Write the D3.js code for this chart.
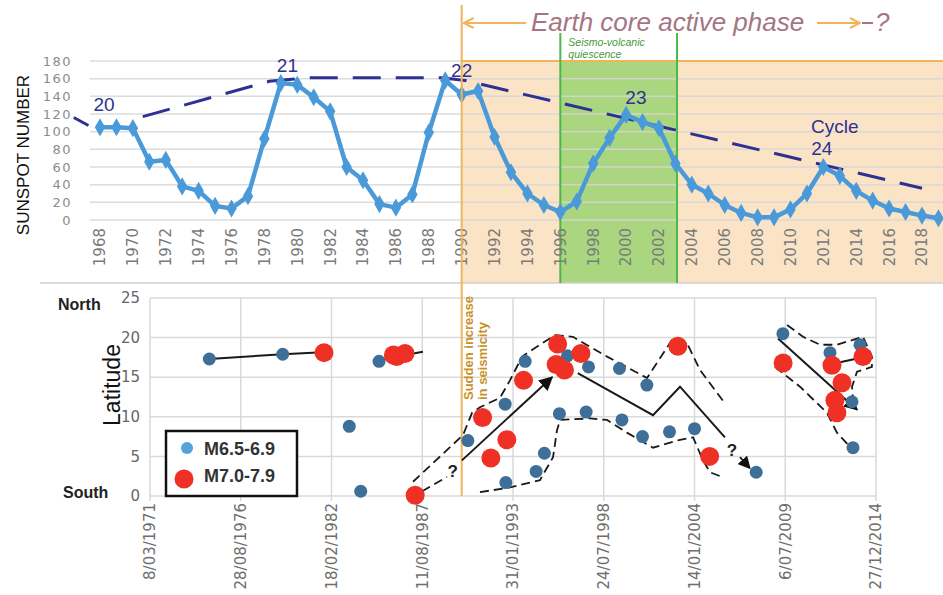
<!DOCTYPE html>
<html><head><meta charset="utf-8">
<script src="https://cdn.jsdelivr.net/npm/d3@7"></script>
<style>body{margin:0;background:#fff}svg{display:block}</style>
</head><body>
<svg id="c" width="943" height="595"></svg>
<script>
// ---------- DATA: top panel (sunspots) ----------
const sunspotYears = [1968,1969,1970,1971,1972,1973,1974,1975,1976,1977,1978,1979,1980,1981,1982,1983,1984,1985,1986,1987,1988,1989,1990,1991,1992,1993,1994,1995,1996,1997,1998,1999,2000,2001,2002,2003,2004,2005,2006,2007,2008,2009,2010,2011,2012,2013,2014,2015,2016,2017,2018,2019];
const sunspotValues = [105,105,104,66,68,38,33,16,13,27,92,155,153,139,123,60,45,18,14,29,99,158,142,146,94,54,30,17,9,21,64,93,119,111,104,64,40,30,17,8,3,3,12,30,60,50,33,22,13,9,5,2];
const sunspotTicks = [0,20,40,60,80,100,120,140,160,180];
const yearTicks = [1968,1970,1972,1974,1976,1978,1980,1982,1984,1986,1988,1990,1992,1994,1996,1998,2000,2002,2004,2006,2008,2010,2012,2014,2016,2018];
const envelopeStart = [[1966.4,116],[1967.3,107]];
const envelopeMain = [[1970.6,117],[1978.3,157],[1980.6,161],[1988.8,161],[1990.2,158],[2018,36]];
const cycleLabels = [["20",1968.25,131],["21",1979.4,175],["22",1990.0,169],["23",2000.6,139],["Cycle",2012.7,106],["24",2011.9,81]];
const activePhaseStart = 1990;
const quiescence = [1996, 2003.1];

// ---------- DATA: bottom panel (earthquakes) ----------
const dateTickLabels = ["8/03/1971","28/08/1976","18/02/1982","11/08/1987","31/01/1993","24/07/1998","14/01/2004","6/07/2009","27/12/2014"];
const latTicks = [0,5,10,15,20,25];
const quakesM65 = [["1974-10-05",17.3],["1979-03-10",17.9],["1983-03-17",8.8],["1983-11-24",0.6],["1985-01-01",17.0],["1990-05-12",7.0],["1992-08-11",11.6],["1992-08-26",1.7],["1993-10-26",17.0],["1994-06-25",3.1],["1994-12-24",5.4],["1995-11-20",10.4],["1996-05-15",17.7],["1997-07-01",10.6],["1997-08-22",16.3],["1999-07-05",16.1],["1999-08-29",9.6],["2000-11-24",7.5],["2001-02-28",14.0],["2002-07-12",8.1],["2004-01-15",8.5],["2007-10-05",3.0],["2009-05-15",20.5],["2012-03-18",18.1],["2013-07-16",11.9],["2013-08-07",6.1],["2014-01-08",19.1]];
const quakesM70 = [["1981-09-06",18.1],["1985-11-13",17.8],["1986-01-26",17.6],["1986-07-27",18.0],["1987-03-08",0.1],["1991-04-01",9.9],["1991-10-01",4.8],["1992-09-17",7.1],["1993-09-20",14.6],["1995-09-09",16.6],["1995-10-12",19.2],["1996-03-10",15.9],["1997-03-08",18.0],["2003-01-12",18.9],["2004-12-13",5.0],["2009-05-20",16.8],["2012-05-01",16.5],["2012-07-05",12.1],["2012-08-18",10.5],["2012-12-08",14.3],["2014-03-15",17.6]];
// annotation paths as [decimal year, latitude]
const trendA = [[1974.74,17.3],[1979.21,17.9],[1982.16,18.2]];
const trendB = [[1984.64,17.05],[1987.65,18.2]];
const envUpperA = [[1987.05,1.8],[1990.07,7.7],[1990.61,10.5],[1991.09,11.2],[1992.30,12.4],[1992.90,14.6],[1993.63,17.6],[1994.71,19.1],[1995.62,20.3],[1996.70,20.1],[1998.76,17.6],[2001.17,14.9],[2002.74,19.9],[2003.58,19.3],[2004.37,15.9],[2005.87,11.7]];
const envLowerA = [[1991.09,0.5],[1992.72,1.0],[1994.71,2.0],[1995.50,4.9],[1995.74,8.3],[1995.92,9.6],[1997.73,9.8],[1998.76,9.6],[1999.96,8.0],[2001.53,6.1],[2003.16,7.1],[2003.95,7.4],[2004.55,4.5],[2004.97,3.0],[2005.70,2.4]];
const linkQ1 = [[1987.6,0.6],[1989.1,2.4]];
const arrowRise = [[1990.0,4.5],[1995.44,15.0]];
const zigzag = [[1996.99,15.5],[2001.53,10.2],[2003.16,13.8],[2005.87,7.4]];
const linkQ2 = [[2006.78,4.9],[2007.38,3.5]];
const envUpperB = [[2009.62,21.6],[2010.58,20.1],[2011.61,19.1],[2012.63,19.1],[2014.2,20.1],[2014.74,17.6],[2014.74,16.3],[2013.84,15.7],[2013.54,13.8],[2013.6,12.1]];
const envLowerB = [[2008.89,16.3],[2010.4,13.8],[2012.03,10.5],[2012.63,8.0],[2013.42,6.2]];
const arrowFall = [[2009.07,19.9],[2013.84,10.9]];
const linkB = [[2012.81,16.9],[2013.72,17.3]];
const questionMarks = [[1989.45,3.2],[2006.3,5.8]];

// ---------- DRAW ----------
const svg = d3.select("#c");
const defs = svg.append("defs");
defs.append("marker").attr("id","ah").attr("viewBox","0 0 10 10").attr("refX",9).attr("refY",5)
  .attr("markerWidth",7).attr("markerHeight",7).attr("orient","auto-start-reverse")
  .append("path").attr("d","M0,0L10,5L0,10Z").attr("fill","#111");
defs.append("marker").attr("id","oh").attr("viewBox","0 0 12 12").attr("refX",11).attr("refY",6)
  .attr("markerWidth",12).attr("markerHeight",12).attr("markerUnits","userSpaceOnUse").attr("orient","auto-start-reverse")
  .append("path").attr("d","M1,1L11,6L1,11").attr("fill","none").attr("stroke","#f0b45c").attr("stroke-width",2);

const xT = d3.scaleLinear().domain([1968,2018]).range([100,922]);
const yT = d3.scaleLinear().domain([0,180]).range([220,61]);
const gridL = 90, right = 943, topBottom = 283;

// shaded regions
const xa = xT(activePhaseStart);
svg.append("rect").attr("x",xa).attr("y",yT(180)).attr("width",right-xa).attr("height",topBottom-yT(180)).attr("fill","#fbe4c6");
svg.append("rect").attr("x",xT(quiescence[0])).attr("y",yT(180)).attr("width",xT(quiescence[1])-xT(quiescence[0])).attr("height",topBottom-yT(180)).attr("fill","#a9d67f");

// grid
svg.append("g").selectAll("line").data(sunspotTicks).join("line")
  .attr("x1",gridL).attr("x2",right).attr("y1",d=>yT(d)).attr("y2",d=>yT(d))
  .attr("stroke","#d6d6d6").attr("stroke-opacity",0.85).attr("stroke-width",1.5);

// borders
svg.append("line").attr("x1",xa).attr("x2",right).attr("y1",yT(180)).attr("y2",yT(180)).attr("stroke","#f2b45a").attr("stroke-width",2);
svg.append("line").attr("x1",40).attr("x2",right).attr("y1",topBottom).attr("y2",topBottom).attr("stroke","#cfcfcf").attr("stroke-width",1.5);
quiescence.forEach(q=>svg.append("line").attr("x1",xT(q)).attr("x2",xT(q)).attr("y1",33).attr("y2",topBottom).attr("stroke","#4cb848").attr("stroke-width",2));

// y ticks top
svg.append("g").selectAll("text").data(sunspotTicks).join("text")
  .attr("x",72).attr("y",d=>yT(d)).attr("dy","0.35em").attr("text-anchor","end")
  .attr("font-family","DejaVu Sans").attr("font-size",13).attr("letter-spacing",1.5).attr("fill","#8c8c8c").text(d=>d);
// x ticks top
svg.append("g").selectAll("text").data(yearTicks).join("text")
  .attr("transform",d=>`translate(${xT(d)},228) rotate(-90)`).attr("dy","0.36em").attr("text-anchor","end")
  .attr("font-family","DejaVu Sans").attr("font-size",15).attr("fill","#7a7a7a").text(d=>d);
svg.append("text").attr("transform","translate(29,155) rotate(-90)").attr("text-anchor","middle")
  .attr("font-family","Liberation Sans").attr("font-size",17).attr("fill","#111").text("SUNSPOT NUMBER");

// envelope dashed
const lineT = d3.line().x(d=>xT(d[0])).y(d=>yT(d[1]));
[envelopeStart, envelopeMain].forEach(p=>svg.append("path").attr("d",lineT(p)).attr("fill","none")
  .attr("stroke","#2e3192").attr("stroke-width",3).attr("stroke-dasharray","28,15"));

// sunspot line
const ss = sunspotYears.map((y,i)=>[y,sunspotValues[i]]);
svg.append("path").attr("d",lineT(ss)).attr("fill","none").attr("stroke","#4a9ad9").attr("stroke-width",4.5).attr("stroke-linejoin","round");
svg.append("g").selectAll("path").data(ss).join("path")
  .attr("transform",d=>`translate(${xT(d[0])},${yT(d[1])})`)
  .attr("d",d3.symbol(d3.symbolDiamond,95)).attr("fill","#4a9ad9");

// cycle labels
svg.append("g").selectAll("text").data(cycleLabels).join("text")
  .attr("x",d=>xT(d[1])).attr("y",d=>yT(d[2])).attr("dy","0.35em").attr("text-anchor","middle")
  .attr("font-family","Liberation Sans").attr("font-size",19).attr("fill","#2e3192").text(d=>d[0]);

// top annotation
svg.append("line").attr("x1",xa+2).attr("x2",526).attr("y1",23).attr("y2",23).attr("stroke","#f0b45c").attr("stroke-width",2).attr("marker-start","url(#oh)");
svg.append("text").attr("x",531).attr("y",31).attr("font-family","Liberation Sans").attr("font-style","italic")
  .attr("font-size",26).attr("fill","#a57584").text("Earth core active phase");
svg.append("line").attr("x1",817).attr("x2",860).attr("y1",23).attr("y2",23).attr("stroke","#f0b45c").attr("stroke-width",2).attr("marker-end","url(#oh)");
svg.append("line").attr("x1",862).attr("x2",873).attr("y1",23).attr("y2",23).attr("stroke","#a57584").attr("stroke-width",2);
svg.append("text").attr("x",875).attr("y",31).attr("font-family","Liberation Sans").attr("font-style","italic")
  .attr("font-size",26).attr("fill","#a57584").text("?");
svg.append("text").attr("x",xT(quiescence[0])+8).attr("y",46).attr("font-family","Liberation Sans").attr("font-style","italic")
  .attr("font-size",10.5).attr("fill","#3f9a3a").text("Seismo-volcanic");
svg.append("text").attr("x",xT(quiescence[0])+8).attr("y",58).attr("font-family","Liberation Sans").attr("font-style","italic")
  .attr("font-size",10.5).attr("fill","#3f9a3a").text("quiescence");

// ---------- bottom panel ----------
const parseTick = d3.utcParse("%d/%m/%Y"), parseDate = d3.utcParse("%Y-%m-%d");
const tickDates = dateTickLabels.map(parseTick);
const xB = d3.scaleUtc().domain([tickDates[0], tickDates[tickDates.length-1]]).range([150,876]);
const yB = d3.scaleLinear().domain([0,25]).range([496,298]);
const dec = y => { const Y=Math.floor(y), s=Date.UTC(Y,0,1), e=Date.UTC(Y+1,0,1); return new Date(s+(y-Y)*(e-s)); };

svg.append("g").selectAll("line").data(latTicks).join("line")
  .attr("x1",150).attr("x2",876).attr("y1",d=>yB(d)).attr("y2",d=>yB(d)).attr("stroke","#d9d9d9").attr("stroke-width",1.5);
svg.append("g").selectAll("line").data(tickDates).join("line")
  .attr("x1",d=>xB(d)).attr("x2",d=>xB(d)).attr("y1",yB(25)).attr("y2",yB(0)+5).attr("stroke","#d9d9d9").attr("stroke-width",1.5);
svg.append("g").selectAll("text").data(latTicks).join("text")
  .attr("x",140).attr("y",d=>yB(d)).attr("dy","0.35em").attr("text-anchor","end")
  .attr("font-family","DejaVu Sans").attr("font-size",15).attr("fill","#666").text(d=>d);
svg.append("g").selectAll("text").data(tickDates).join("text")
  .attr("transform",d=>`translate(${xB(d)},503) rotate(-90)`).attr("dy","0.36em").attr("text-anchor","end")
  .attr("font-family","DejaVu Sans").attr("font-size",15).attr("fill","#6e6e6e").text((d,i)=>dateTickLabels[i]);
svg.append("text").attr("transform","translate(120,385) rotate(-90)").attr("text-anchor","middle")
  .attr("font-family","Liberation Sans").attr("font-size",23).attr("fill","#111").text("Latitude");
svg.append("text").attr("x",58).attr("y",310).attr("font-family","Liberation Sans").attr("font-weight","bold").attr("font-size",16).attr("fill","#222").text("North");
svg.append("text").attr("x",63).attr("y",498).attr("font-family","Liberation Sans").attr("font-weight","bold").attr("font-size",16).attr("fill","#222").text("South");

// vertical "sudden increase" line
svg.append("line").attr("x1",xa).attr("x2",xa).attr("y1",5).attr("y2",yB(0)).attr("stroke","#f0b45c").attr("stroke-width",2);
svg.append("text").attr("transform",`translate(${xa+11},400) rotate(-90)`).attr("font-family","Liberation Sans").attr("font-weight","bold")
  .attr("font-size",13).attr("fill","#c8912c").text("Sudden increase");
svg.append("text").attr("transform",`translate(${xa+25},400) rotate(-90)`).attr("font-family","Liberation Sans").attr("font-weight","bold")
  .attr("font-size",13).attr("fill","#c8912c").text("in seismicity");

// annotation lines
const lineB = d3.line().x(d=>xB(dec(d[0]))).y(d=>yB(d[1]));
const dashed = [envUpperA, envLowerA, linkQ1, envUpperB, envLowerB];
dashed.forEach(p=>svg.append("path").attr("d",lineB(p)).attr("fill","none").attr("stroke","#1a1a1a").attr("stroke-width",1.8).attr("stroke-dasharray","9,5"));
svg.append("path").attr("d",lineB(linkQ2)).attr("fill","none").attr("stroke","#1a1a1a").attr("stroke-width",1.8).attr("stroke-dasharray","5,4").attr("marker-end","url(#ah)");
[trendA, trendB, zigzag, linkB].forEach(p=>svg.append("path").attr("d",lineB(p)).attr("fill","none").attr("stroke","#1a1a1a").attr("stroke-width",2));
[arrowRise, arrowFall].forEach(p=>svg.append("path").attr("d",lineB(p)).attr("fill","none").attr("stroke","#1a1a1a").attr("stroke-width",2).attr("marker-end","url(#ah)"));
svg.append("g").selectAll("text").data(questionMarks).join("text")
  .attr("x",d=>xB(dec(d[0]))).attr("y",d=>yB(d[1])).attr("dy","0.35em").attr("text-anchor","middle")
  .attr("font-family","Liberation Sans").attr("font-weight","bold").attr("font-size",17).attr("fill","#222").text("?");

// points
svg.append("g").selectAll("circle").data(quakesM65).join("circle")
  .attr("cx",d=>xB(parseDate(d[0]))).attr("cy",d=>yB(d[1])).attr("r",6.5).attr("fill","#3d6f98");
svg.append("g").selectAll("circle").data(quakesM70).join("circle")
  .attr("cx",d=>xB(parseDate(d[0]))).attr("cy",d=>yB(d[1])).attr("r",9.5).attr("fill","#ee3124");

// legend
const lg = svg.append("g");
lg.append("rect").attr("x",166).attr("y",431).attr("width",131).attr("height",65).attr("fill","#fff").attr("stroke","#111").attr("stroke-width",2.5);
lg.append("circle").attr("cx",187).attr("cy",448).attr("r",6).attr("fill","#55a3dd");
lg.append("circle").attr("cx",184).attr("cy",479).attr("r",9.5).attr("fill","#ee3124");
lg.append("text").attr("x",204).attr("y",455).attr("font-family","Liberation Sans").attr("font-weight","bold").attr("font-size",18).attr("fill","#333").text("M6.5-6.9");
lg.append("text").attr("x",204).attr("y",482).attr("font-family","Liberation Sans").attr("font-weight","bold").attr("font-size",18).attr("fill","#333").text("M7.0-7.9");
</script>
</body></html>
